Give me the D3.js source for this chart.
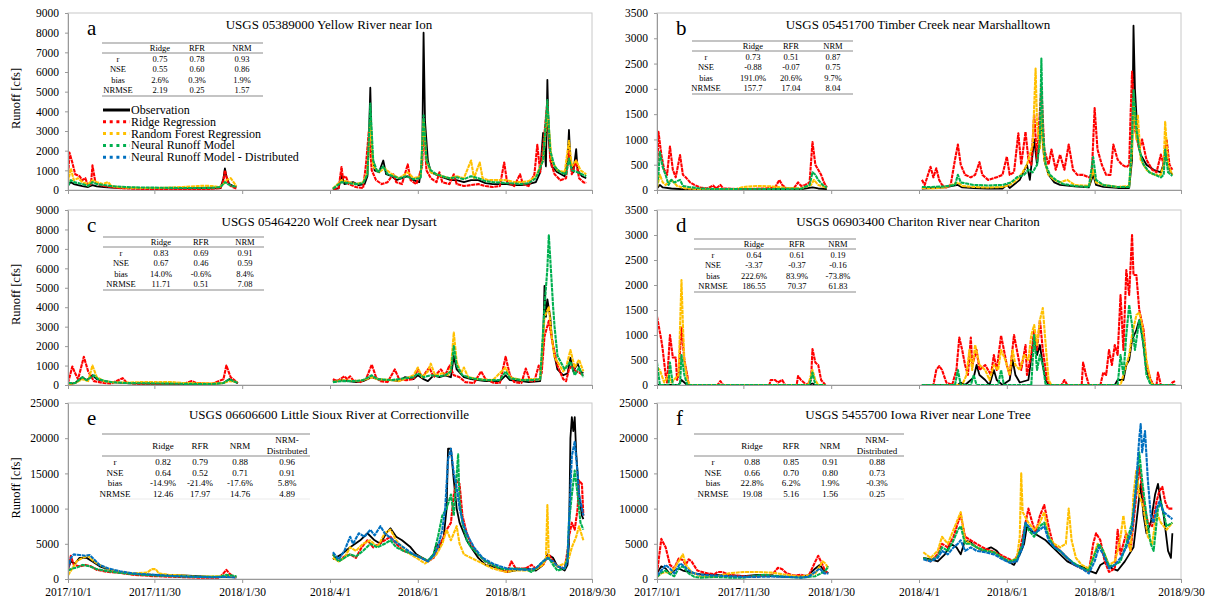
<!DOCTYPE html>
<html>
<head>
<meta charset="utf-8">
<script src="https://cdn.jsdelivr.net/npm/d3@7"></script>
<style>
body { margin: 0; background: #fff; }
svg { font-family: "Liberation Serif", "Times New Roman", serif; }
</style>
</head>
<body>
<svg id="chart" width="1209" height="600"></svg>
<script>
// series names + colours (Excel defaults)
var seriesNames = ["Observation", "Ridge Regression", "Random Forest Regression", "Neural Runoff Model", "Neural Runoff Model - Distributed"];
var seriesColors = ["#000000", "#ff0000", "#ffc000", "#00b050", "#0070c0"];

var titles = [
  "USGS 05389000 Yellow River near Ion",
  "USGS 05451700 Timber Creek near Marshalltown",
  "USGS 05464220 Wolf Creek near Dysart",
  "USGS 06903400 Chariton River near Chariton",
  "USGS 06606600 Little Sioux River at Correctionville",
  "USGS 5455700 Iowa River near Lone Tree"
];

var xTickLabels = ["2017/10/1", "2017/11/30", "2018/1/30", "2018/4/1", "2018/6/1", "2018/8/1", "2018/9/30"];

// table contents
var rowLabels = ["r", "NSE", "bias", "NRMSE"];
var head3 = ["Ridge", "RFR", "NRM"];
var head4 = ["Ridge", "RFR", "NRM", "NRM-|Distributed"];
var tableA = [["0.75", "0.78", "0.93"], ["0.55", "0.60", "0.86"], ["2.6%", "0.3%", "1.9%"], ["2.19", "0.25", "1.57"]];
var tableB = [["0.73", "0.51", "0.87"], ["-0.88", "-0.07", "0.75"], ["191.0%", "20.6%", "9.7%"], ["157.7", "17.04", "8.04"]];
var tableC = [["0.83", "0.69", "0.91"], ["0.67", "0.46", "0.59"], ["14.0%", "-0.6%", "8.4%"], ["11.71", "0.51", "7.08"]];
var tableD = [["0.64", "0.61", "0.19"], ["-3.37", "-0.37", "-0.16"], ["222.6%", "83.9%", "-73.8%"], ["186.55", "70.37", "61.83"]];
var tableE = [["0.82", "0.79", "0.88", "0.96"], ["0.64", "0.52", "0.71", "0.91"], ["-14.9%", "-21.4%", "-17.6%", "5.8%"], ["12.46", "17.97", "14.76", "4.89"]];
var tableF = [["0.88", "0.85", "0.91", "0.88"], ["0.66", "0.70", "0.80", "0.73"], ["22.8%", "6.2%", "1.9%", "-0.3%"], ["19.08", "5.16", "1.56", "0.25"]];

// runoff [cfs], points are [days since 2017/10/1, value]; null = data gap
var aObs = [[0,250],[2,400],[4,300],[7,250],[10,200],[14,150],[17,250],[20,180],[25,150],[30,120],[40,100],[50,90],[60,80],[70,80],[80,80],[90,90],[100,90],[106,100],[108,600],[109,1100],[110,700],[112,300],[115,200],[117,150],[150,null],
  [184,50],[188,80],[190,760],[192,300],[195,350],[198,400],[202,250],[206,300],[208,700],[209,2500],[210,5200],[211,2000],[213,1000],[216,900],[219,1500],[221,800],[225,700],[228,500],[232,600],[236,700],[240,500],[244,400],[246,1500],[247,8000],[248,3500],[250,1500],[252,900],[255,800],[258,700],[262,600],[266,500],[270,500],[275,400],[280,500],[285,500],[290,350],[295,300],[300,300],[305,300],[310,250],[315,250],[320,300],[325,400],[328,900],[330,2900],[332,1200],[333,5600],[334,2500],[336,1200],[340,900],[345,700],[347,1500],[348,3050],[349,1500],[351,900],[353,2080],[354,1000],[357,700],[360,600]];
var aRidge = [[0,600],[1,1900],[3,1400],[5,800],[8,700],[10,500],[12,600],[14,200],[16,300],[17,1250],[19,400],[22,250],[25,200],[30,150],[35,100],[40,80],[50,60],[60,50],[70,60],[80,50],[90,50],[100,60],[106,100],[108,500],[109,1000],[111,400],[113,200],[116,100],[117,80],[150,null],
  [184,30],[188,100],[190,1170],[191,600],[193,700],[195,300],[200,150],[205,100],[207,1300],[209,3000],[211,1000],[214,500],[218,300],[222,400],[226,800],[228,400],[232,300],[236,1300],[238,500],[242,300],[246,1200],[247,3500],[249,1000],[252,600],[256,400],[258,900],[260,400],[265,300],[268,800],[270,300],[275,200],[280,250],[285,300],[290,200],[295,150],[300,200],[303,1400],[305,400],[310,200],[314,800],[316,300],[320,200],[324,800],[326,2300],[328,900],[331,2900],[333,4500],[335,1500],[338,800],[342,500],[346,600],[348,2000],[350,800],[353,1500],[355,600],[358,400],[360,350]];
var aRfr = [[0,400],[2,1100],[4,500],[7,600],[10,400],[14,300],[17,500],[20,400],[24,300],[28,400],[30,200],[35,150],[40,120],[50,100],[60,100],[70,120],[80,150],[90,200],[95,220],[100,200],[105,150],[108,300],[110,500],[113,600],[115,400],[117,200],[150,null],
  [184,80],[190,500],[195,400],[200,300],[205,400],[208,900],[210,3500],[212,1200],[216,900],[220,1100],[225,800],[230,600],[236,900],[240,600],[245,700],[247,3600],[249,1500],[252,900],[256,800],[260,700],[265,600],[270,700],[275,600],[280,1500],[282,600],[286,1400],[288,600],[292,500],[296,500],[300,500],[305,500],[310,400],[315,400],[320,450],[325,700],[330,1500],[333,4000],[336,1500],[340,1000],[345,900],[348,2500],[350,1200],[353,1500],[356,1000],[360,800]];
var aNrm = [[0,200],[2,500],[4,400],[7,350],[10,300],[14,200],[17,400],[20,300],[25,250],[30,200],[40,150],[50,130],[60,120],[70,110],[80,100],[90,100],[100,110],[106,150],[109,400],[111,300],[114,200],[117,150],[150,null],
  [184,60],[190,400],[195,350],[200,300],[205,350],[208,800],[210,4400],[212,1500],[215,900],[219,1200],[222,800],[226,700],[230,600],[235,700],[240,550],[245,600],[247,3800],[249,1500],[252,1000],[256,800],[260,700],[265,600],[270,650],[275,550],[280,700],[285,600],[290,450],[295,400],[300,380],[305,350],[310,330],[315,300],[320,350],[325,600],[330,1500],[333,4575],[335,2000],[338,1200],[342,900],[346,800],[348,1600],[350,1000],[354,900],[357,800],[360,700]];

var bObs = [[0,30],[2,100],[4,50],[10,30],[20,10],[40,10],[60,10],[80,20],[100,15],[108,50],[112,30],[118,20],[150,null],
  [184,30],[190,40],[200,50],[209,100],[212,50],[220,40],[230,30],[240,30],[243,100],[245,40],[252,200],[257,500],[259,200],[262,1000],[264,500],[267,1300],[269,600],[272,300],[276,150],[280,100],[290,70],[300,50],[303,300],[305,100],[310,60],[320,40],[328,40],[330,600],[331,3250],[332,2000],[334,1000],[336,700],[340,500],[345,400],[350,350],[354,700],[356,400],[358,300]];
var bRidge = [[0,200],[1,1150],[3,700],[5,400],[7,300],[9,860],[11,400],[13,250],[16,690],[18,300],[20,250],[23,150],[26,100],[30,50],[35,30],[39,90],[41,30],[44,100],[46,30],[55,20],[65,20],[75,30],[82,50],[85,200],[87,100],[90,30],[95,30],[98,150],[100,80],[103,100],[106,150],[108,950],[110,500],[112,400],[114,300],[116,150],[118,50],[150,null],
  [184,200],[186,100],[190,460],[192,250],[194,430],[196,200],[198,100],[201,50],[204,100],[207,600],[209,900],[211,500],[214,300],[218,250],[221,300],[224,550],[226,300],[230,200],[236,250],[240,300],[243,660],[245,300],[248,350],[251,1120],[253,500],[256,1150],[258,600],[260,500],[262,1500],[264,600],[267,2040],[269,800],[272,500],[274,800],[277,400],[280,700],[283,400],[286,900],[289,400],[292,300],[296,300],[300,250],[302,300],[304,1620],[306,800],[309,500],[312,300],[315,300],[317,900],[320,600],[323,500],[326,450],[328,500],[329,1500],[330,2340],[332,1200],[335,800],[337,1000],[340,600],[344,400],[347,350],[350,700],[352,500],[354,1000],[356,500],[358,400]];
var bRfr = [[0,50],[2,300],[4,150],[6,100],[10,200],[14,80],[20,30],[30,20],[55,20],[60,60],[70,80],[80,70],[90,40],[100,30],[107,100],[109,200],[112,100],[118,40],[150,null],
  [184,40],[190,30],[200,50],[209,150],[212,80],[220,60],[230,50],[240,60],[245,100],[250,200],[254,350],[257,500],[261,900],[263,2400],[264,1300],[266,800],[267,1500],[269,600],[272,300],[276,200],[280,150],[285,200],[290,100],[300,80],[303,400],[305,150],[310,100],[320,60],[328,80],[330,800],[331,1800],[333,1000],[334,1490],[336,600],[340,400],[345,300],[350,300],[352,500],[353,1350],[355,500],[358,300]];
var bNrm = [[0,100],[1,300],[2,750],[4,450],[6,300],[8,100],[10,200],[12,150],[16,200],[18,80],[22,60],[30,30],[40,20],[60,20],[80,20],[100,25],[106,100],[108,350],[110,300],[112,200],[115,100],[118,50],[150,null],
  [184,60],[190,60],[200,70],[207,100],[209,300],[211,150],[220,100],[230,90],[240,100],[246,150],[250,250],[255,300],[258,400],[261,350],[264,500],[266,1000],[267,2600],[268,1200],[270,500],[273,300],[277,200],[282,120],[290,80],[300,60],[303,650],[305,200],[310,100],[320,60],[328,60],[330,1000],[331,1977],[333,1200],[335,800],[338,500],[342,350],[346,300],[350,250],[352,300],[353,800],[355,350],[358,280]];

var cObs = [[0,50],[5,100],[10,400],[13,250],[17,500],[20,300],[25,200],[30,150],[40,100],[60,70],[80,60],[100,60],[108,100],[112,300],[115,200],[118,100],[150,null],
  [184,200],[190,250],[195,200],[200,150],[205,200],[211,400],[215,300],[220,250],[225,250],[230,200],[234,400],[240,300],[243,500],[247,300],[250,200],[254,500],[258,400],[262,500],[266,400],[268,1500],[270,800],[275,400],[280,300],[290,200],[300,200],[304,500],[307,250],[315,200],[320,150],[328,200],[330,2000],[331,5100],[332,3500],[333,4400],[335,3500],[336,2500],[338,1500],[340,800],[344,500],[347,600],[349,1400],[351,700],[354,1100],[356,700],[358,600]];
var cRidge = [[0,100],[3,950],[5,600],[7,300],[11,1450],[14,700],[18,200],[25,100],[30,80],[38,350],[41,100],[50,60],[70,50],[80,60],[86,200],[89,100],[100,60],[108,300],[110,1000],[113,400],[118,100],[150,null],
  [184,300],[187,200],[192,450],[194,300],[196,450],[198,250],[203,150],[207,300],[211,1050],[214,400],[217,200],[222,150],[227,800],[230,300],[235,250],[240,300],[243,800],[246,400],[251,900],[254,400],[259,800],[262,500],[265,1000],[268,500],[272,400],[276,150],[282,100],[287,700],[290,300],[296,100],[300,100],[304,1450],[307,500],[310,150],[315,100],[318,850],[321,200],[324,200],[327,1000],[329,600],[331,2500],[334,3300],[337,2000],[340,1000],[344,300],[346,200],[348,800],[350,1000],[353,700],[356,600],[358,500]];
var cRfr = [[0,50],[5,100],[10,300],[14,200],[17,1000],[20,400],[25,200],[30,150],[40,120],[51,150],[60,150],[72,150],[80,100],[100,80],[108,100],[112,200],[118,150],[150,null],
  [184,150],[190,250],[200,200],[205,250],[211,400],[215,300],[225,250],[230,200],[235,350],[240,500],[243,900],[246,400],[250,700],[252,1100],[255,500],[260,600],[264,500],[266,900],[268,2700],[270,1200],[273,600],[275,900],[278,400],[285,300],[295,250],[304,900],[307,400],[315,250],[322,300],[328,300],[331,3500],[334,4000],[336,2500],[338,1400],[340,1200],[344,700],[346,900],[349,1800],[352,900],[355,1300],[358,700]];
var cNrm = [[0,100],[5,100],[10,400],[13,250],[18,500],[21,300],[26,200],[30,150],[40,100],[60,80],[80,60],[100,50],[108,100],[112,300],[115,200],[118,100],[150,null],
  [184,150],[190,200],[200,200],[205,250],[211,500],[215,300],[225,250],[234,350],[240,400],[243,600],[247,400],[252,500],[258,450],[262,500],[266,700],[268,2000],[270,1000],[274,500],[280,350],[290,250],[300,250],[304,700],[307,350],[315,250],[322,250],[328,300],[331,4000],[333,6000],[334,7700],[335,6500],[337,4000],[338,3000],[340,1500],[345,800],[349,1200],[352,500],[355,900],[358,400]];

var dObs = [[0,0],[15,0],[17,100],[19,50],[21,0],[105,0],[108,30],[110,0],[117,0],[150,null],
  [184,0],[209,0],[211,50],[214,0],[218,100],[220,150],[222,400],[224,200],[228,100],[231,0],[234,300],[236,100],[240,0],[245,100],[247,500],[249,200],[252,50],[258,100],[262,1000],[264,600],[266,800],[268,400],[270,100],[272,0],[318,0],[320,100],[324,100],[326,400],[328,500],[330,900],[333,1100],[335,1300],[337,1000],[340,300],[343,50],[345,0],[360,0]];
var dRidge = [[0,1370],[3,900],[4,700],[6,200],[7,50],[9,1000],[11,550],[13,550],[14,100],[15,200],[17,1150],[19,500],[21,200],[22,0],[42,0],[44,80],[46,0],[78,0],[79,100],[82,100],[84,50],[87,100],[89,0],[97,0],[98,180],[100,100],[102,50],[104,0],[107,100],[108,720],[110,450],[112,400],[114,100],[117,0],[150,null],
  [184,0],[192,0],[194,300],[196,380],[198,300],[201,50],[205,0],[208,300],[210,950],[212,700],[214,400],[216,200],[218,950],[219,400],[222,700],[224,300],[228,400],[232,200],[234,600],[236,300],[239,990],[241,700],[243,400],[245,200],[248,1000],[250,700],[252,400],[253,300],[256,800],[257,200],[260,600],[262,1100],[264,700],[266,1300],[268,700],[269,500],[271,100],[273,0],[281,0],[283,100],[285,0],[295,0],[296,450],[298,200],[300,0],[308,0],[310,250],[312,200],[314,700],[316,400],[318,800],[320,600],[322,1800],[324,700],[326,2300],[328,1800],[330,3000],[331,2200],[333,2200],[335,1500],[338,1100],[340,400],[343,100],[345,0],[347,0],[348,250],[350,0],[357,0],[358,50],[360,80]];
var dRfr = [[0,350],[2,300],[5,50],[8,200],[10,50],[15,200],[17,2100],[18,1200],[19,500],[21,100],[23,0],[105,0],[108,300],[110,100],[112,0],[117,0],[150,null],
  [184,0],[212,0],[215,200],[217,700],[219,300],[221,800],[224,400],[228,300],[231,100],[234,400],[237,300],[239,700],[242,500],[245,200],[247,700],[249,400],[252,300],[255,600],[258,500],[260,1000],[262,1200],[264,800],[266,1300],[268,1540],[270,800],[272,100],[274,0],[322,0],[325,300],[328,600],[330,1000],[333,1400],[335,1450],[337,1200],[340,500],[343,50],[345,0],[360,0]];
var dNrm = [[0,450],[2,0],[8,0],[9,450],[11,0],[16,0],[17,600],[19,200],[21,0],[106,0],[108,250],[110,0],[117,0],[150,null],
  [184,0],[207,0],[209,300],[211,0],[218,0],[220,200],[222,0],[237,0],[239,300],[241,0],[260,0],[262,1000],[264,300],[266,600],[268,400],[270,0],[320,0],[322,600],[324,200],[326,1000],[328,1600],[330,1200],[332,700],[335,1300],[338,800],[340,200],[343,0],[360,0]];

var eObs = [[0,1500],[2,2500],[5,2200],[8,3000],[13,3000],[17,2500],[22,1800],[29,1300],[36,1000],[45,700],[60,600],[80,500],[100,300],[117,300],[150,null],
  [184,2800],[190,3500],[196,4500],[203,5500],[208,6500],[213,5500],[217,5000],[221,6500],[224,7200],[228,6000],[232,5500],[238,4500],[242,3500],[246,3000],[250,2500],[254,3500],[256,5000],[258,4500],[261,6000],[263,10000],[264,18500],[266,18500],[268,14000],[270,10000],[272,8000],[274,7000],[277,5500],[280,4500],[285,3000],[290,2000],[300,1500],[305,1000],[310,1200],[318,1500],[325,1200],[330,2000],[333,3500],[337,3000],[340,1800],[345,1200],[347,2000],[348,5000],[349,20000],[350,23000],[351,21000],[352,23000],[353,18000],[355,12000],[357,9000],[358,8500]];
var eRidge = [[0,1000],[2,3300],[4,2000],[8,1800],[12,2000],[16,1800],[20,1300],[28,1000],[35,900],[45,600],[60,400],[75,300],[90,200],[105,200],[108,800],[110,1300],[112,800],[115,300],[117,200],[150,null],
  [184,3500],[188,2500],[192,3200],[196,3500],[200,3000],[204,4500],[208,5500],[212,4500],[216,5000],[220,5500],[224,6000],[228,5000],[233,4000],[240,3500],[246,3000],[250,2500],[254,3000],[257,4500],[260,5500],[263,7000],[266,8000],[268,12000],[270,14000],[272,13500],[274,9000],[277,6500],[280,5000],[285,3500],[290,2500],[295,2000],[300,1300],[305,1000],[308,2500],[311,1500],[318,1500],[322,2000],[325,1500],[330,2000],[334,3500],[337,2500],[340,1800],[345,1500],[347,4000],[348,6000],[350,8000],[352,7000],[354,10000],[355,14000],[357,13500],[358,9000]];
var eRfr = [[0,500],[3,1500],[6,2500],[10,3000],[14,3300],[18,2500],[22,2000],[28,1400],[36,1000],[45,800],[55,900],[58,1400],[61,1400],[63,800],[70,600],[80,500],[90,300],[105,400],[110,500],[117,300],[150,null],
  [184,3000],[188,2500],[192,3000],[196,4500],[200,4000],[205,5000],[210,5500],[215,4500],[220,6500],[224,7000],[228,5500],[232,4500],[238,3500],[242,3000],[248,2200],[252,2800],[256,3500],[260,5000],[263,7000],[266,5500],[268,6500],[270,7500],[272,5000],[275,3500],[280,3000],[285,2500],[290,2000],[295,1500],[300,1200],[305,1000],[310,1200],[318,1200],[325,1400],[330,2000],[332,3000],[333,10500],[334,3000],[336,2500],[340,1800],[345,2200],[348,3000],[350,4500],[353,6000],[355,7500],[358,5500]];
var eNrm = [[0,1200],[3,1500],[6,1600],[10,2000],[15,1800],[20,1400],[28,1100],[35,900],[45,700],[60,500],[75,400],[90,300],[105,300],[110,600],[117,400],[150,null],
  [184,3500],[188,2500],[192,3000],[196,3500],[200,3200],[205,4000],[210,5000],[215,4500],[220,5000],[224,5500],[228,4500],[233,4000],[240,3500],[246,3000],[250,2600],[254,3500],[257,6000],[260,9000],[263,10000],[266,12000],[268,9000],[271,17700],[272,11000],[274,8000],[277,5500],[280,4500],[285,3500],[290,2500],[295,2000],[300,1500],[305,1400],[310,1500],[318,1400],[322,1000],[325,1500],[330,2500],[334,3000],[337,2000],[340,1200],[345,1500],[347,3000],[348,8000],[350,12000],[352,15400],[354,12000],[356,8000],[358,7000]];
var eNrmD = [[0,1500],[2,3000],[4,3500],[8,3400],[12,3300],[15,3400],[18,2800],[22,2000],[28,1500],[36,1100],[45,800],[60,600],[75,400],[90,300],[100,250],[110,300],[117,200],[150,null],
  [184,3800],[188,2800],[192,4000],[196,6000],[198,5000],[202,6500],[206,6000],[210,7000],[213,6200],[217,7500],[220,6500],[223,6000],[228,5200],[233,4500],[240,3500],[245,3000],[250,2500],[254,3300],[257,4500],[260,7000],[262,10000],[264,17000],[266,18500],[268,15000],[270,13000],[272,10000],[275,7500],[278,6000],[282,4500],[288,3000],[295,2200],[300,1800],[305,1500],[310,1400],[318,1300],[325,1500],[330,2500],[333,3000],[337,2500],[340,1800],[345,1500],[347,2500],[348,8000],[350,17500],[352,19500],[354,15000],[355,12000],[357,10000],[358,9000]];

var fObs = [[0,800],[3,1800],[6,1500],[9,700],[12,1200],[15,1500],[18,1200],[22,1000],[26,800],[30,700],[40,600],[50,500],[60,400],[70,600],[75,500],[80,400],[90,300],[100,400],[105,500],[110,1500],[113,2000],[116,1200],[119,800],[150,null],
  [185,3000],[190,2800],[195,2500],[200,3500],[204,5000],[208,4500],[211,3500],[214,5500],[218,5200],[222,4500],[226,4000],[232,4500],[236,4000],[240,3000],[244,2500],[248,2000],[252,3500],[255,5000],[257,7500],[259,7000],[262,6500],[266,6000],[270,5500],[275,4500],[280,3500],[285,2500],[290,2000],[295,1800],[300,1200],[305,800],[308,2000],[312,2500],[316,1500],[320,1200],[325,2500],[328,3500],[331,4500],[333,8000],[336,13500],[338,9000],[340,6500],[343,8000],[346,12000],[348,13500],[350,11000],[352,9000],[355,4000],[357,3000],[358,6500]];
var fRidge = [[0,800],[3,5700],[6,4500],[9,2000],[12,1500],[15,2900],[18,2700],[20,2000],[22,2800],[24,2500],[28,1200],[35,800],[40,700],[42,1000],[45,1000],[50,600],[60,400],[70,400],[80,600],[84,1600],[87,1400],[90,800],[95,500],[100,600],[105,300],[110,2500],[112,3300],[115,2000],[117,1000],[119,900],[150,null],
  [185,3000],[190,2500],[195,3500],[198,5000],[202,4500],[206,6000],[209,8000],[211,9100],[214,6000],[218,5500],[222,5000],[226,4500],[232,4000],[238,3500],[243,3000],[248,2500],[252,4000],[256,8000],[258,10000],[260,8500],[263,6500],[266,9000],[269,10500],[272,7500],[275,5000],[280,4000],[285,3000],[290,2000],[295,1500],[300,1000],[303,5000],[305,6500],[308,5500],[311,2500],[314,1000],[318,1500],[320,7000],[322,3500],[326,6500],[329,4000],[332,10000],[335,16000],[338,11000],[341,8000],[344,7500],[347,11000],[349,12500],[351,13100],[353,11000],[355,10000],[358,10000]];
var fRfr = [[0,300],[3,800],[6,1000],[9,800],[12,1500],[15,2500],[18,3500],[20,2000],[24,1000],[30,400],[40,300],[50,800],[60,1000],[70,1000],[80,900],[90,600],[100,300],[110,800],[115,2500],[117,2200],[119,1500],[150,null],
  [185,3800],[190,3000],[195,4000],[198,6000],[202,5000],[206,7000],[209,8500],[211,9500],[214,5500],[218,5000],[222,4500],[228,4000],[234,3800],[240,3000],[245,2500],[250,3000],[252,6000],[253,15000],[254,9500],[258,8000],[262,7000],[266,8000],[269,9500],[272,6000],[276,5000],[280,4500],[284,5000],[286,10000],[288,5500],[291,3000],[295,2000],[300,1500],[303,3000],[306,5000],[310,4000],[314,2000],[318,2500],[320,4000],[322,6000],[324,9000],[326,6000],[329,4000],[331,12000],[333,15500],[335,12000],[338,10000],[341,6000],[344,5000],[347,9500],[350,8000],[354,7000],[358,8000]];
var fNrm = [[0,300],[3,900],[6,1200],[9,700],[12,400],[15,1500],[18,1800],[22,800],[26,300],[30,200],[40,300],[50,200],[60,200],[70,500],[75,600],[80,500],[90,300],[100,200],[110,400],[114,800],[117,1200],[119,1800],[150,null],
  [185,3000],[190,2600],[195,3200],[198,4500],[202,4000],[206,5500],[209,7000],[211,7500],[214,5000],[218,5000],[222,4500],[228,4000],[234,3800],[240,3000],[245,2500],[250,2800],[254,5000],[256,8000],[258,7000],[262,6000],[266,7500],[269,8000],[272,6000],[276,4500],[280,4000],[285,3000],[290,2200],[295,1600],[300,1200],[304,3500],[307,5000],[310,4000],[314,1800],[318,2000],[322,2500],[326,5000],[330,8000],[333,13000],[335,18000],[337,14000],[340,9000],[343,5000],[345,4000],[348,10000],[350,11000],[354,7500],[358,8000]];
var fNrmD = [[0,500],[3,1200],[6,2000],[9,1500],[12,800],[16,2200],[19,1800],[22,1200],[26,800],[30,600],[40,500],[50,400],[60,300],[70,300],[80,350],[90,300],[100,200],[105,300],[110,1000],[113,1500],[116,800],[119,800],[150,null],
  [185,2800],[190,2500],[195,3000],[198,4000],[202,3500],[206,4500],[209,5000],[211,5500],[214,4000],[218,4500],[222,4000],[228,3800],[234,3500],[240,2800],[245,2300],[250,2500],[254,4500],[256,8000],[258,7500],[262,6500],[266,7000],[269,7500],[272,5500],[276,4500],[280,4000],[285,3000],[290,2000],[295,1500],[300,800],[304,2500],[307,4500],[310,3500],[314,1500],[318,2000],[322,3000],[326,4500],[330,7000],[333,14000],[335,20000],[336,22000],[337,18000],[339,21000],[341,14000],[343,9000],[345,8000],[347,10000],[349,11000],[352,9500],[355,9000],[358,8500]];

var svg = d3.select("#chart");
var start = new Date(2017, 9, 1), end = new Date(2018, 8, 30);
var tickDates = [new Date(2017, 9, 1), new Date(2017, 10, 30), new Date(2018, 0, 30), new Date(2018, 3, 1), new Date(2018, 5, 1), new Date(2018, 7, 1), new Date(2018, 8, 30)];
var toDate = d => d3.timeDay.offset(start, d);

var cols = [{x0: 68, x1: 592}, {x0: 657, x1: 1181}];
var rows = [{top: 13, bottom: 190}, {top: 210, bottom: 385}, {top: 403, bottom: 579}];

var panels = [
  {key: "a", c: 0, r: 0, max: 9000, step: 1000, series: [aObs, aRidge, aRfr, aNrm], table: tableA, tTop: 43, tX: [102, 263], tCols: [118, 160, 197, 242]},
  {key: "b", c: 1, r: 0, max: 3500, step: 500, series: [bObs, bRidge, bRfr, bNrm], table: tableB, tTop: 41, tX: [692, 853], tCols: [706, 753, 791, 833]},
  {key: "c", c: 0, r: 1, max: 9000, step: 1000, series: [cObs, cRidge, cRfr, cNrm], table: tableC, tTop: 237, tX: [103, 264], tCols: [121, 161, 201, 245]},
  {key: "d", c: 1, r: 1, max: 3500, step: 500, series: [dObs, dRidge, dRfr, dNrm], table: tableD, tTop: 239, tX: [694, 856], tCols: [713, 754, 797, 838]},
  {key: "e", c: 0, r: 2, max: 25000, step: 5000, series: [eObs, eRidge, eRfr, eNrm, eNrmD], table: tableE, tTop: 434, tX: [102, 310], tCols: [115, 163, 200, 240, 287]},
  {key: "f", c: 1, r: 2, max: 25000, step: 5000, series: [fObs, fRidge, fRfr, fNrm, fNrmD], table: tableF, tTop: 434, tX: [694, 904], tCols: [713, 752, 791, 830, 877]}
];

panels.forEach(function (p, pi) {
  var x0 = cols[p.c].x0, x1 = cols[p.c].x1;
  var top = rows[p.r].top, bottom = rows[p.r].bottom;
  var g = svg.append("g");

  var x = d3.scaleTime().domain([start, end]).range([x0, x1]);
  var y = d3.scaleLinear().domain([0, p.max]).range([bottom, top]);

  // plot frame
  g.append("rect")
    .attr("x", x0).attr("y", top)
    .attr("width", x1 - x0).attr("height", bottom - top)
    .attr("fill", "none").attr("stroke", "#c8c8c8");

  var clipId = "clip" + p.key;
  g.append("clipPath").attr("id", clipId)
    .append("rect").attr("x", x0).attr("y", top - 1).attr("width", x1 - x0).attr("height", bottom - top + 1);

  var line = d3.line()
    .defined(d => d[1] !== null)
    .x(d => x(toDate(d[0])))
    .y(d => y(d[1]));

  var lines = g.append("g").attr("clip-path", "url(#" + clipId + ")");
  p.series.forEach(function (s, si) {
    lines.append("path")
      .datum(s)
      .attr("fill", "none")
      .attr("stroke", seriesColors[si])
      .attr("stroke-width", si === 0 ? 1.8 : 2.1)
      .attr("stroke-dasharray", si === 0 ? null : "4,0.7")
      .attr("stroke-linejoin", "round")
      .attr("d", line);
  });

  // axes
  var yAxis = d3.axisLeft(y)
    .tickValues(d3.range(0, p.max + 1, p.step))
    .tickFormat(d3.format("d"))
    .tickSize(3).tickSizeOuter(0).tickPadding(6);
  var ya = g.append("g").attr("transform", "translate(" + x0 + ",0)").call(yAxis);

  var isBottom = p.r === 2;
  var xAxis = d3.axisBottom(x)
    .tickValues(tickDates)
    .tickFormat((d, i) => isBottom ? xTickLabels[i] : "")
    .tickSize(4).tickSizeOuter(0).tickPadding(5);
  var xa = g.append("g").attr("transform", "translate(0," + bottom + ")").call(xAxis);

  [ya, xa].forEach(function (a) {
    a.select(".domain").attr("stroke", "#999");
    a.selectAll(".tick line").attr("stroke", "#999");
    a.selectAll("text").attr("fill", "#000").style("font-size", "11.5px")
      .style("font-family", "Liberation Serif, Times New Roman, serif");
  });

  if (p.c === 0) {
    g.append("text")
      .attr("transform", "translate(20," + ((top + bottom) / 2 - 3) + ") rotate(-90)")
      .attr("text-anchor", "middle")
      .style("font-size", "12.5px")
      .text("Runoff [cfs]");
  }

  // title and panel letter
  g.append("text")
    .attr("x", (x0 + x1) / 2 - 1).attr("y", top + 16)
    .attr("text-anchor", "middle")
    .style("font-size", "13px")
    .text(titles[pi]);
  g.append("text")
    .attr("x", x0 + 19).attr("y", top + 22)
    .style("font-size", "21px")
    .text(p.key);

  // statistics table
  var wide = p.table[0].length === 4;
  var T = p.tTop;
  var head = wide ? head4 : head3;
  var headLine = wide ? T + 22 : T + 10;
  var rowBase = wide ? [T + 30.5, T + 41.5, T + 52, T + 62.5] : [T + 18.5, T + 29, T + 39.5, T + 50];
  var tbl = g.append("g").style("font-size", wide ? "9px" : "8.5px").attr("text-anchor", "middle");
  tbl.append("line").attr("x1", p.tX[0]).attr("x2", p.tX[1]).attr("y1", T).attr("y2", T).attr("stroke", "#8a8a8a").attr("stroke-width", 1.2);
  tbl.append("line").attr("x1", p.tX[0]).attr("x2", p.tX[1]).attr("y1", headLine).attr("y2", headLine).attr("stroke", "#8a8a8a").attr("stroke-width", 1);
  var bottomLine = wide ? T + 65 : T + 53;
  tbl.append("line").attr("x1", p.tX[0]).attr("x2", p.tX[1]).attr("y1", bottomLine).attr("y2", bottomLine)
    .attr("stroke", wide ? "#e6e6e6" : "#8a8a8a").attr("stroke-width", wide ? 0.8 : 1.2);

  head.forEach(function (h, hi) {
    var parts = h.split("|");
    if (parts.length === 2) {
      tbl.append("text").attr("x", p.tCols[hi + 1]).attr("y", T + 9).text(parts[0]);
      tbl.append("text").attr("x", p.tCols[hi + 1]).attr("y", T + 19.5).text(parts[1]);
    } else {
      tbl.append("text").attr("x", p.tCols[hi + 1]).attr("y", wide ? T + 14.5 : T + 7.5).text(h);
    }
  });
  rowLabels.forEach(function (lab, ri) {
    tbl.append("text").attr("x", p.tCols[0]).attr("y", rowBase[ri]).text(lab);
    p.table[ri].forEach(function (v, vi) {
      tbl.append("text").attr("x", p.tCols[vi + 1]).attr("y", rowBase[ri]).text(v);
    });
  });

  // legend lives in panel a
  if (p.key === "a") {
    var lg = g.append("g");
    seriesNames.forEach(function (name, i) {
      var ly = 110 + i * 11.8;
      lg.append("line")
        .attr("x1", 103).attr("x2", 130).attr("y1", ly).attr("y2", ly)
        .attr("stroke", seriesColors[i]).attr("stroke-width", 3)
        .attr("stroke-dasharray", i === 0 ? null : "3,3.7");
      lg.append("text").attr("x", 131).attr("y", ly + 4)
        .style("font-size", "12px").text(name);
    });
  }
});
</script>
</body>
</html>
